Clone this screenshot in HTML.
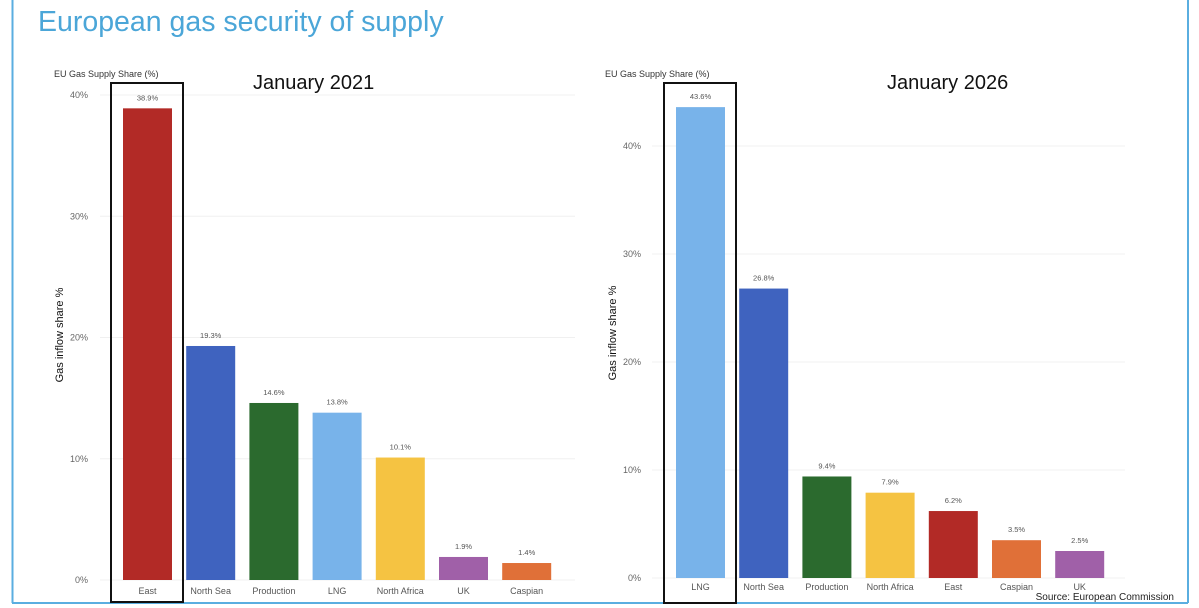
<!DOCTYPE html>
<html><head><meta charset="utf-8"><style>
body{margin:0;background:#fff;}
svg{display:block;font-family:"Liberation Sans",sans-serif;}
</style></head><body>
<svg id="s" width="1199" height="608">
<rect x="0" y="0" width="1199" height="608" fill="#fff"/>
<line x1="12.5" y1="0" x2="12.5" y2="603" stroke="#5aaee0" stroke-width="2"/>
<line x1="12" y1="603" x2="1188" y2="603" stroke="#5aaee0" stroke-width="2"/>
<line x1="1188" y1="0" x2="1188" y2="603" stroke="#5aaee0" stroke-width="2"/>
<text x="38" y="31" font-size="28.5" fill="#4ba6d8">European gas security of supply</text>
<text x="1174" y="600" font-size="10" text-anchor="end" fill="#222">Source: European Commission</text>
</svg>
<script>
const leftCategories=["East","North Sea","Production","LNG","North Africa","UK","Caspian"];
const leftValues=[38.9,19.3,14.6,13.8,10.1,1.9,1.4];
const leftColors=["#b22a26","#3f63bf","#2b6a2e","#78b3ea","#f5c342","#a060a8","#e07038"];
const rightCategories=["LNG","North Sea","Production","North Africa","East","Caspian","UK"];
const rightValues=[43.6,26.8,9.4,7.9,6.2,3.5,2.5];
const rightColors=["#78b3ea","#3f63bf","#2b6a2e","#f5c342","#b22a26","#e07038","#a060a8"];
const tickValues=[0,10,20,30,40];
const S=document.getElementById('s');
const NS='http://www.w3.org/2000/svg';
function mk(t,a,txt){const e=document.createElementNS(NS,t);for(const k in a)e.setAttribute(k,a[k]);if(txt!==undefined)e.textContent=txt;S.appendChild(e);return e;}
function chart(cfg){
  const y=v=>cfg.y0-v*cfg.pxPer;
  const x=i=>cfg.x0+i*cfg.step;
  let t=mk('text',{x:cfg.titleX,y:77,'font-size':9,fill:'#333'},'EU Gas Supply Share (%)');
  
  
  t=mk('text',{x:cfg.periodX,y:89,'font-size':20,fill:'#111'},cfg.period);
  
  
  t=mk('text',{x:0,y:0,'font-size':11,fill:'#111','text-anchor':'middle',transform:`translate(${cfg.axisTitleX},${cfg.axisTitleY}) rotate(-90)`},'Gas inflow share %');
  
  
  tickValues.forEach(v=>{
    const g=mk('line',{x1:cfg.gridX1,x2:cfg.gridX2,y1:y(v),y2:y(v),stroke:'#f0f0f0','stroke-width':1});
    
    
    const l=mk('text',{x:cfg.tickX,y:y(v)+3,'font-size':9,fill:'#666','text-anchor':'end'},v+'%');
    
    
  });
  cfg.values.forEach((v,i)=>{
    const r=mk('rect',{x:x(i),y:y(v),width:49,height:v*cfg.pxPer,fill:cfg.colors[i]});
    
    
    const vl=mk('text',{x:x(i)+24.5,y:y(v)-8,'font-size':7.5,fill:'#555','text-anchor':'middle'},v.toFixed(1)+'%');
    
    
    const cl=mk('text',{x:x(i)+24.5,y:cfg.catY,'font-size':9,fill:'#555','text-anchor':'middle'},cfg.cats[i]);
    
    
  });
  const b=mk('rect',{x:cfg.boxX,y:83,width:72,height:cfg.boxH,fill:'none',stroke:'#111','stroke-width':2});
  
  
}
chart({id:'jan-2021',period:'January 2021',cats:leftCategories,values:leftValues,colors:leftColors,
  y0:580,pxPer:12.125,x0:123,step:63.2,titleX:54,periodX:253,axisTitleX:63,axisTitleY:335,tickX:88,gridX1:100,gridX2:575,catY:594,boxX:111,boxH:519});
chart({id:'jan-2026',period:'January 2026',cats:rightCategories,values:rightValues,colors:rightColors,
  y0:578,pxPer:10.8,x0:676,step:63.2,titleX:605,periodX:887,axisTitleX:616,axisTitleY:333,tickX:641,gridX1:652,gridX2:1125,catY:590,boxX:664,boxH:520});
</script>
</body></html>
